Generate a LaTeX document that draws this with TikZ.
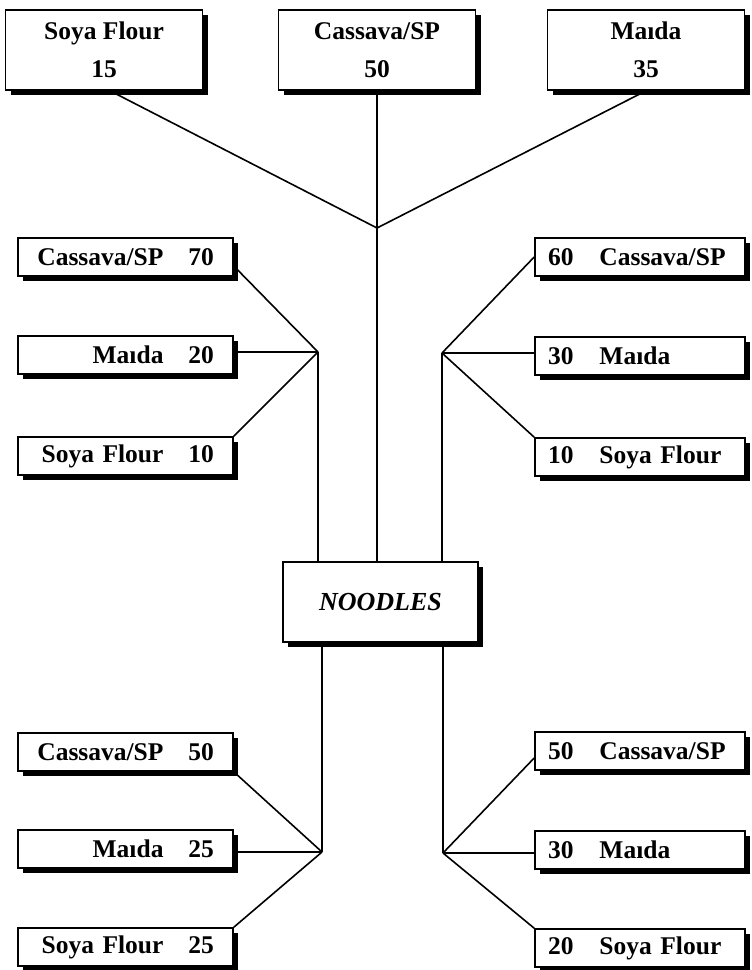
\documentclass[tikz,border=0pt]{standalone}
\usepackage{fontspec}
\setmainfont{Liberation Serif}
\usetikzlibrary{shadows,calc,backgrounds}

\begin{document}
\begin{tikzpicture}[x=1pt,y=-1pt,
  box/.style={draw=black, line width=1.6pt, fill=white, inner sep=0pt,
    drop shadow={shadow xshift=5pt, shadow yshift=-5pt, opacity=1, fill=black},
    font=\fontsize{25.5}{38}\selectfont\bfseries},
  topbox/.style={box, minimum width=197pt, minimum height=80pt, align=center},
  leftbox/.style={box, minimum width=215pt, minimum height=38pt, text width=177pt, align=right},
  rightbox/.style={box, minimum width=210pt, minimum height=38pt, text width=184pt, align=left},
  mainbox/.style={box, minimum width=195pt, minimum height=80pt,
    font=\fontsize{26}{30}\selectfont\bfseries\itshape},
  link/.style={draw=black, line width=1.6pt}]

\useasboundingbox (0,0) rectangle (752,970);

% top row
\node[topbox] (ts) at (104,50)  {Soya Flour\\15};
\node[topbox] (tc) at (377,50)  {Cassava/SP\\50};
\node[topbox] (tm) at (646,50)  {Maıda\\35};

% product
\node[mainbox] (nd) at (380.5,602) {NOODLES};

% upper side groups
\node[leftbox] (lc) at (125.5,257) {Cassava/SP\hspace{25pt}70};
\node[leftbox] (lm) at (125.5,355) {Maıda\hspace{25pt}20};
\node[leftbox] (ls) at (125.5,456) {Soya Flour\hspace{25pt}10};

\node[rightbox] (rc) at (640,257) {60\hspace{26pt}Cassava/SP};
\node[rightbox] (rm) at (640,356) {30\hspace{26pt}Maıda};
\node[rightbox] (rs) at (640,457) {10\hspace{26pt}Soya Flour};

% lower side groups
\node[leftbox] (blc) at (125.5,752) {Cassava/SP\hspace{25pt}50};
\node[leftbox] (blm) at (125.5,849) {Maıda\hspace{25pt}25};
\node[leftbox] (bls) at (125.5,947) {Soya Flour\hspace{25pt}25};

\node[rightbox] (brc) at (640,751) {50\hspace{26pt}Cassava/SP};
\node[rightbox] (brm) at (640,850) {30\hspace{26pt}Maıda};
\node[rightbox] (brs) at (640,948) {20\hspace{26pt}Soya Flour};

% junctions
\coordinate (jt)  at (377,228);
\coordinate (jl)  at (318,352);
\coordinate (jr)  at (442,353);
\coordinate (jbl) at (322,852);
\coordinate (jbr) at (443,853);

\begin{pgfonlayer}{background}
  % top mixture
  \draw[link] ($(ts.south)+(6,0)$) -- (jt);
  \draw[link] (tc.south) -- (jt);
  \draw[link] (tm.south) -- (jt);
  \draw[link] (jt) -- (jt |- nd.north);
  % upper left mixture
  \draw[link] ($(lc.east)+(0,9)$) -- (jl);
  \draw[link] (lm.east |- jl) -- (jl);
  \draw[link] (ls.north east) -- (jl);
  \draw[link] (jl) -- (jl |- nd.north);
  % upper right mixture
  \draw[link] (rc.west) -- (jr);
  \draw[link] (rm.west |- jr) -- (jr);
  \draw[link] (rs.north west) -- (jr);
  \draw[link] (jr) -- (jr |- nd.north);
  % lower left mixture
  \draw[link] (nd.south -| jbl) -- (jbl);
  \draw[link] (blc.south east) -- (jbl);
  \draw[link] (blm.east |- jbl) -- (jbl);
  \draw[link] (bls.north east) -- (jbl);
  % lower right mixture
  \draw[link] (nd.south -| jbr) -- (jbr);
  \draw[link] ($(brc.west)+(0,7)$) -- (jbr);
  \draw[link] (brm.west |- jbr) -- (jbr);
  \draw[link] (brs.north west) -- (jbr);
\end{pgfonlayer}
\end{tikzpicture}
\end{document}
